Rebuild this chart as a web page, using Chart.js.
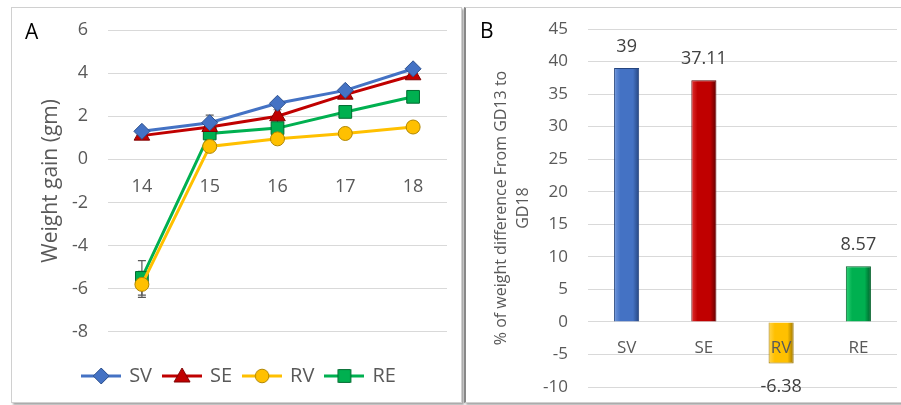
<!DOCTYPE html>
<html>
<head>
<meta charset="utf-8">
<script src="https://cdn.jsdelivr.net/npm/chart.js@4.4.1/dist/chart.umd.min.js"></script>
<style>
body { margin:0; background:#fff; width:901px; height:405px; overflow:hidden; position:relative; font-family:'Open Sans', sans-serif; }
.panel { position:absolute; top:7px; height:394px; background:#fff; border:1px solid #d0d0d0; box-shadow:2px 2px 2px rgba(0,0,0,0.35); }
#panelA { left:11px; width:449px; }
#panelB { left:464px; width:436px; border-left:2px solid #888; }
.panel canvas { position:absolute; left:0; top:0; }
.tag { position:absolute; font-size:21px; color:#000; z-index:2; }
</style>
</head>
<body>
<div class="panel" id="panelA">
  <div class="tag" style="left:13px;top:9px;">A</div>
  <canvas id="chartA" width="449" height="394"></canvas>
</div>
<div class="panel" id="panelB">
  <div class="tag" style="left:14px;top:8px;">B</div>
  <canvas id="chartB" width="436" height="394"></canvas>
</div>
<script>
// panel A - weight gain per gestation day
const days = ['14', '15', '16', '17', '18'];
const svGain = [1.3, 1.7, 2.6, 3.2, 4.2];
const seGain = [1.1, 1.5, 2.0, 3.0, 3.9];
const rvGain = [-5.8, 0.6, 0.95, 1.2, 1.5];
const reGain = [-5.5, 1.2, 1.45, 2.2, 2.9];
const svErr = [0.1, 0.35, 0.15, 0.1, 0.1];
const seErr = [0.1, 0.1, 0.3, 0.1, 0.1];
const rvErr = [0.6, 0.1, 0.1, 0.1, 0.1];
const reErr = [0.8, 0.1, 0.1, 0.1, 0.1];

// panel B - % weight difference GD13 to GD18
const groups = ['SV', 'SE', 'RV', 'RE'];
const pctDiff = [39, 37.11, -6.38, 8.57];
const pctLabels = ['39', '37.11', '-6.38', '8.57'];

const blue = '#4472C4', red = '#C00000', gold = '#FFC000', green = '#00B050';
const tickColor = '#595959';

function drawMarker(g, style, x, y, r) {
    g.beginPath();
    if (style === 'rectRot') {
        g.moveTo(x, y - r); g.lineTo(x + r, y); g.lineTo(x, y + r); g.lineTo(x - r, y);
    } else if (style === 'triangle') {
        g.moveTo(x, y - r); g.lineTo(x + r, y + r * 0.75); g.lineTo(x - r, y + r * 0.75);
    } else if (style === 'rect') {
        g.rect(x - r * 0.8, y - r * 0.8, r * 1.6, r * 1.6);
    } else {
        g.arc(x, y, r * 0.85, 0, Math.PI * 2);
    }
    g.closePath();
    g.fill();
    g.stroke();
}

function legendIcon(color, dark, style) {
    const c = document.createElement('canvas');
    c.width = 40; c.height = 20;
    const g = c.getContext('2d');
    g.strokeStyle = color; g.lineWidth = 3;
    g.beginPath(); g.moveTo(0, 10); g.lineTo(40, 10); g.stroke();
    g.fillStyle = color; g.strokeStyle = dark; g.lineWidth = 1;
    drawMarker(g, style, 20, 10, 8);
    return c;
}

const seriesA = [
    { label: 'SV', data: svGain, err: svErr, color: blue, dark: '#2F528F', style: 'rectRot', r: 8 },
    { label: 'SE', data: seGain, err: seErr, color: red, dark: '#7F0000', style: 'triangle', r: 9 },
    { label: 'RV', data: rvGain, err: rvErr, color: gold, dark: '#B08600', style: 'circle', r: 7 },
    { label: 'RE', data: reGain, err: reErr, color: green, dark: '#006B30', style: 'rect', r: 9 }
];

const errorBars = {
    id: 'errorBars',
    beforeDatasetsDraw(chart) {
        const g = chart.ctx;
        const y = chart.scales.y;
        g.save();
        g.strokeStyle = '#595959';
        g.lineWidth = 1.2;
        chart.data.datasets.forEach((ds, di) => {
            const meta = chart.getDatasetMeta(di);
            meta.data.forEach((pt, i) => {
                const v = ds.data[i], e = seriesA[di].err[i];
                const top = y.getPixelForValue(v + e), bot = y.getPixelForValue(v - e);
                g.beginPath();
                g.moveTo(pt.x, top); g.lineTo(pt.x, bot);
                g.moveTo(pt.x - 4, top); g.lineTo(pt.x + 4, top);
                g.moveTo(pt.x - 4, bot); g.lineTo(pt.x + 4, bot);
                g.stroke();
            });
        });
        g.restore();
    }
};

new Chart(document.getElementById('chartA'), {
    type: 'line',
    data: {
        labels: days,
        datasets: seriesA.map(s => ({
            label: s.label,
            data: s.data,
            borderColor: s.color,
            backgroundColor: s.color,
            borderWidth: 3,
            pointStyle: s.style,
            pointRadius: s.r,
            pointBackgroundColor: s.color,
            pointBorderColor: s.dark,
            pointBorderWidth: 1,
            tension: 0
        }))
    },
    options: {
        responsive: false,
        animation: false,
        layout: { padding: { top: 22, right: 14, bottom: 6, left: 20 } },
        plugins: {
            tooltip: { enabled: false },
            legend: {
                position: 'bottom',
                // empty title used only as a spacer above the legend row
                title: { display: true, text: ' ', font: { size: 1 }, padding: { top: 21, bottom: 0 } },
                labels: {
                    usePointStyle: true,
                    pointStyleWidth: 36,
                    padding: 12,
                    color: tickColor,
                    font: { family: 'Open Sans', size: 20 },
                    generateLabels(chart) {
                        return seriesA.map((s, i) => ({
                            text: s.label,
                            fontColor: tickColor,
                            pointStyle: legendIcon(s.color, s.dark, s.style),
                            lineWidth: 0,
                            datasetIndex: i
                        }));
                    }
                }
            }
        },
        scales: {
            x: {
                position: { y: 0 },
                offset: true,
                grid: { display: false, offset: true },
                border: { display: false },
                ticks: { color: tickColor, padding: 9, font: { family: 'Open Sans', size: 18 } }
            },
            y: {
                min: -8, max: 6,
                ticks: { stepSize: 2, color: tickColor, padding: 20, font: { family: 'Open Sans', size: 18 } },
                grid: { color: '#d9d9d9', drawTicks: false },
                border: { display: false },
                title: { display: true, text: 'Weight gain (gm)', color: tickColor, padding: { top: 6, bottom: 0 }, font: { family: 'Open Sans', size: 21 } },
                afterFit(scale) {
                    scale.width = 76;
                    scale.paddingTop = 0;
                    scale.paddingBottom = 0;
                }
            }
        }
    },
    plugins: [errorBars]
});

// bar chart with shaded bars
const barColors = [
    ['#6F96DB', blue, '#25457F'],
    ['#E03030', red, '#600000'],
    ['#FFD54F', gold, '#9C7500'],
    ['#2FD276', green, '#00602A']
];

function barFill(ctx) {
    const c = barColors[ctx.dataIndex % 4];
    const chart = ctx.chart;
    if (!chart.chartArea || !chart.scales.x) return c[1];
    const x = chart.scales.x.getPixelForValue(ctx.dataIndex);
    const w = chart.scales.x.width / groups.length * 0.325;
    const grad = chart.ctx.createLinearGradient(x - w / 2, 0, x + w / 2, 0);
    grad.addColorStop(0, c[0]);
    grad.addColorStop(0.25, c[1]);
    grad.addColorStop(0.75, c[1]);
    grad.addColorStop(1, c[2]);
    return grad;
}

const barValueLabels = {
    id: 'barValueLabels',
    afterDatasetsDraw(chart) {
        const g = chart.ctx;
        g.save();
        g.font = '18px "Open Sans"';
        g.fillStyle = '#404040';
        g.textAlign = 'center';
        g.textBaseline = 'middle';
        chart.getDatasetMeta(0).data.forEach((bar, i) => {
            const y = pctDiff[i] >= 0 ? bar.y - 21 : bar.y + 23;
            g.fillText(pctLabels[i], bar.x, y);
        });
        g.restore();
    }
};

new Chart(document.getElementById('chartB'), {
    type: 'bar',
    data: {
        labels: groups,
        datasets: [{
            data: pctDiff,
            backgroundColor: barFill,
            borderColor: barColors.map(c => c[2]),
            borderWidth: 1,
            barPercentage: 0.325,
            categoryPercentage: 1
        }]
    },
    options: {
        responsive: false,
        animation: false,
        layout: { padding: { top: 21, right: 5, bottom: 15, left: 0 } },
        plugins: { legend: { display: false }, tooltip: { enabled: false } },
        scales: {
            x: {
                position: { y: 0 },
                grid: { display: false },
                border: { display: false },
                // labels sit on top of the bars, like the RV label
                ticks: { z: 1, color: tickColor, padding: 8, font: { family: 'Open Sans', size: 17 } }
            },
            y: {
                min: -10, max: 45,
                ticks: { stepSize: 5, color: tickColor, padding: 20, font: { family: 'Open Sans', size: 17 } },
                grid: { color: '#d9d9d9', drawTicks: false },
                border: { display: false },
                title: {
                    display: true,
                    text: ['% of weight difference From GD13 to', 'GD18'],
                    color: tickColor,
                    padding: { top: 24, bottom: 0 },
                    font: { family: 'Open Sans', size: 16, lineHeight: 1.4 }
                },
                afterFit(scale) {
                    scale.width = 122;
                    scale.paddingTop = 0;
                    scale.paddingBottom = 0;
                }
            }
        }
    },
    plugins: [barValueLabels]
});
</script>
</body>
</html>
